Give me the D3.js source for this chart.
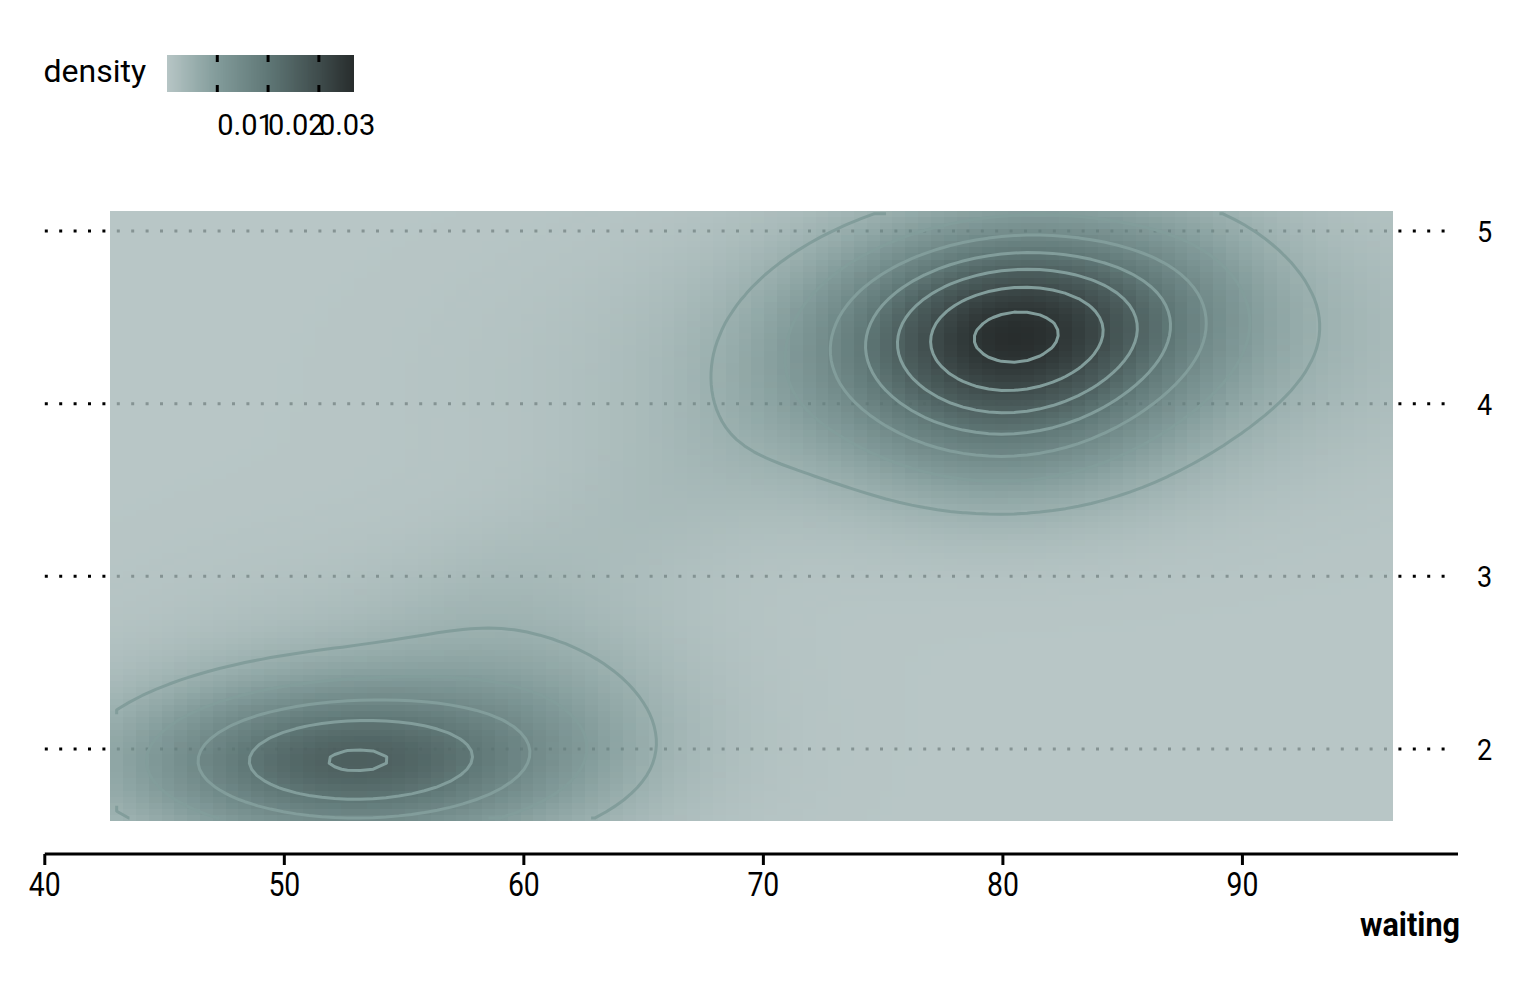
<!DOCTYPE html>
<html>
<head>
<meta charset="utf-8">
<script src="https://cdn.jsdelivr.net/npm/d3@7"></script>
<style>
  body { margin: 0; background: #ffffff; }
  svg { display: block; }
  text { font-family: Roboto, "Noto Sans", "DejaVu Sans", sans-serif; fill: #000; }
</style>
</head>
<body>
<svg id="chart" width="1540" height="990"></svg>
<script>
// ---------------- data ----------------
const waitingTicks = [40, 50, 60, 70, 80, 90];
const eruptionTicks = [2, 3, 4, 5];
const legendTicks = [0.01, 0.02, 0.03];
const contourLevels = [0.005, 0.01, 0.015, 0.02, 0.025, 0.03, 0.035];
const gridWaitingRange = [43, 96];
const gridEruptionRange = [1.6, 5.1];
const gridSize = 100;

// density surface, described as bumps
const compWaiting     = [80.6, 80.0, 81.0, 70.0, 65.5, 58.5, 52.6, 61.0, 55.5, 88.0];
const compEruptions   = [4.44, 3.80, 4.30, 3.95, 3.40, 2.95, 1.92, 2.30, 2.20, 4.85];
const compSdWaiting   = [5.2, 4.6, 10.5, 2.5, 3.5, 3.0, 6.2, 4.0, 7.5, 2.5];
const compSdEruptions = [0.40, 0.33, 0.55, 0.30, 0.35, 0.30, 0.31, 0.40, 0.55, 0.35];
const compRho         = [0.08, 0.0, 0.12, 0.0, 0.3, 0.3, 0.0, 0.0, 0.0, 0.0];
const compPeak        = [0.0290, 0.0065, 0.0068, 0.0008, 0.0015, 0.0010, 0.0223, 0.0030, 0.0035, 0.0010];

const fillStopValues = [0, 0.005, 0.01, 0.02, 0.03, 0.037];
const fillStopColors = ["#b8c6c6", "#9bb0af", "#829b9a", "#5f7776", "#3f4c4c", "#272c2c"];

// ---------------- setup ----------------
const svg = d3.select("#chart");
const x = d3.scaleLinear().domain([40, 99]).range([44.8, 1458]);
const y = d3.scaleLinear().domain([2, 5]).range([749, 231]);

const dw = (gridWaitingRange[1] - gridWaitingRange[0]) / (gridSize - 1);
const de = (gridEruptionRange[1] - gridEruptionRange[0]) / (gridSize - 1);

function density(w, e) {
  let s = 0;
  for (let k = 0; k < compPeak.length; k++) {
    const zx = (w - compWaiting[k]) / compSdWaiting[k];
    const zy = (e - compEruptions[k]) / compSdEruptions[k];
    const r = compRho[k];
    const q = (zx * zx - 2 * r * zx * zy + zy * zy) / (2 * (1 - r * r));
    s += compPeak[k] * Math.exp(-q);
  }
  return s;
}

// grid: row 0 = top (highest eruptions)
const cells = [];
const values = new Array(gridSize * gridSize);
for (let j = 0; j < gridSize; j++) {
  const e = gridEruptionRange[1] - j * de;
  for (let i = 0; i < gridSize; i++) {
    const w = gridWaitingRange[0] + i * dw;
    const d = density(w, e);
    values[j * gridSize + i] = d;
    cells.push({ w, e, d });
  }
}
const dmin = d3.min(values), dmax = d3.max(values);

const colorT = d3.scaleLinear().domain(fillStopValues).range(fillStopColors)
  .interpolate(d3.interpolateRgb).clamp(true);

function cellStyle(d) {
  const t = Math.max(0, (d - dmin) / (dmax - dmin));
  const a = 1 - 0.2 * Math.pow(1 - t, 3);
  const T = d3.rgb(colorT(d));
  const ch = v => Math.max(0, Math.min(255, (v - (1 - a) * 255) / a));
  return { fill: d3.rgb(ch(T.r), ch(T.g), ch(T.b)).formatHex(), alpha: a };
}

// ---------------- grid lines (under the raster) ----------------
svg.append("g").selectAll("line").data(eruptionTicks).join("line")
  .attr("x1", x(40)).attr("x2", 1456)
  .attr("y1", d => y(d)).attr("y2", d => y(d))
  .attr("stroke", "#000").attr("stroke-width", 3)
  .attr("stroke-dasharray", "3 11.4");

// ---------------- raster ----------------
svg.append("g").attr("shape-rendering", "crispEdges")
  .selectAll("rect").data(cells).join("rect")
  .attr("x", c => x(c.w - dw / 2))
  .attr("width", c => x(c.w + dw / 2) - x(c.w - dw / 2))
  .attr("y", c => y(c.e + de / 2))
  .attr("height", c => y(c.e - de / 2) - y(c.e + de / 2))
  .each(function (c) {
    const s = cellStyle(c.d);
    d3.select(this).attr("fill", s.fill).attr("fill-opacity", s.alpha);
  });

// ---------------- contours ----------------
const N = gridSize;
const cont = d3.contours().size([N, N]).thresholds(contourLevels)(values);
const toPx = p => {
  const cx = Math.max(0.5, Math.min(N - 0.5, p[0]));
  const cy = Math.max(0.5, Math.min(N - 0.5, p[1]));
  const w = gridWaitingRange[0] + (cx - 0.5) * dw;
  const e = gridEruptionRange[1] - (cy - 0.5) * de;
  return [x(w), y(e)];
};
function ringToLines(ring) {
  const n = ring.length - 1;
  const isB = (a, b) => (a[0] === 0 && b[0] === 0) || (a[0] === N && b[0] === N) ||
                        (a[1] === 0 && b[1] === 0) || (a[1] === N && b[1] === N);
  const segB = d3.range(n).map(k => isB(ring[k], ring[k + 1]));
  if (!segB.some(Boolean)) return [{ closed: true, pts: ring }];
  const start = segB.indexOf(true);
  const lines = [];
  let cur = null;
  for (let m = 1; m <= n; m++) {
    const k = (start + m) % n;
    if (segB[k]) { if (cur && cur.length > 1) lines.push(cur); cur = null; }
    else { if (!cur) cur = [ring[k]]; cur.push(ring[k + 1]); }
  }
  if (cur && cur.length > 1) lines.push(cur);
  return lines.map(p => ({ closed: false, pts: p }));
}
const paths = [];
cont.forEach(mp => {
  mp.coordinates.forEach(poly => {
    poly.forEach(ring => {
      ringToLines(ring).forEach(l => paths.push({ level: mp.value, ...l }));
    });
  });
});
const lineGen = d3.line();
svg.append("g").selectAll("path").data(paths).join("path")
  .attr("d", p => lineGen(p.pts.map(toPx)) + (p.closed ? "Z" : ""))
  .attr("fill", "none")
  .attr("stroke", "#829d9b")
  .attr("stroke-width", 3)
  .attr("stroke-linejoin", "round")
  .attr("stroke-linecap", "butt");

// ---------------- x axis ----------------
const axisY = 854;
const gx = svg.append("g");
gx.append("line").attr("x1", x(40)).attr("x2", 1458).attr("y1", axisY).attr("y2", axisY)
  .attr("stroke", "#000").attr("stroke-width", 3);
gx.selectAll("line.tick").data(waitingTicks).join("line").attr("class", "tick")
  .attr("x1", d => x(d)).attr("x2", d => x(d))
  .attr("y1", axisY).attr("y2", axisY + 11)
  .attr("stroke", "#000").attr("stroke-width", 3);
gx.selectAll("text").data(waitingTicks).join("text")
  .attr("transform", d => `translate(${x(d)},896) scale(0.86,1)`)
  .attr("text-anchor", "middle").attr("font-size", 33)
  .text(d => d);
svg.append("text")
  .attr("transform", "translate(1460,936) scale(0.9,1)")
  .attr("text-anchor", "end").attr("font-size", 34).attr("font-weight", 700)
  .text("waiting");

// ---------------- y labels (right) ----------------
svg.append("g").selectAll("text").data(eruptionTicks).join("text")
  .attr("transform", d => `translate(1477,${y(d) + 11}) scale(0.9,1)`)
  .attr("font-size", 30)
  .text(d => d);

// ---------------- legend ----------------
const lx = d3.scaleLinear().domain([dmin, dmax]).range([166.5, 353.3]);
const lg = svg.append("g");
lg.append("text").attr("x", 43.5).attr("y", 82).attr("font-size", 32).text("density");
const nb = 200;
const bins = d3.range(nb).map(k => dmin + (dmax - dmin) * (k + 0.5) / nb);
const bw = (lx.range()[1] - lx.range()[0]) / nb;
lg.append("g").attr("shape-rendering", "crispEdges").selectAll("rect").data(bins).join("rect")
  .attr("x", (d, k) => lx.range()[0] + k * bw)
  .attr("width", bw + 0.6)
  .attr("y", 55).attr("height", 37)
  .attr("fill", d => colorT(d));
lg.selectAll("line.t1").data(legendTicks).join("line").attr("class", "t1")
  .attr("x1", d => lx(d)).attr("x2", d => lx(d)).attr("y1", 55).attr("y2", 62)
  .attr("stroke", "#000").attr("stroke-width", 3);
lg.selectAll("line.t2").data(legendTicks).join("line").attr("class", "t2")
  .attr("x1", d => lx(d)).attr("x2", d => lx(d)).attr("y1", 85).attr("y2", 92)
  .attr("stroke", "#000").attr("stroke-width", 3);
lg.selectAll("text.lab").data(legendTicks).join("text").attr("class", "lab")
  .attr("x", d => lx(d)).attr("y", 135)
  .attr("font-size", 29)
  .text(d => d3.format(".2f")(d));
</script>
</body>
</html>
